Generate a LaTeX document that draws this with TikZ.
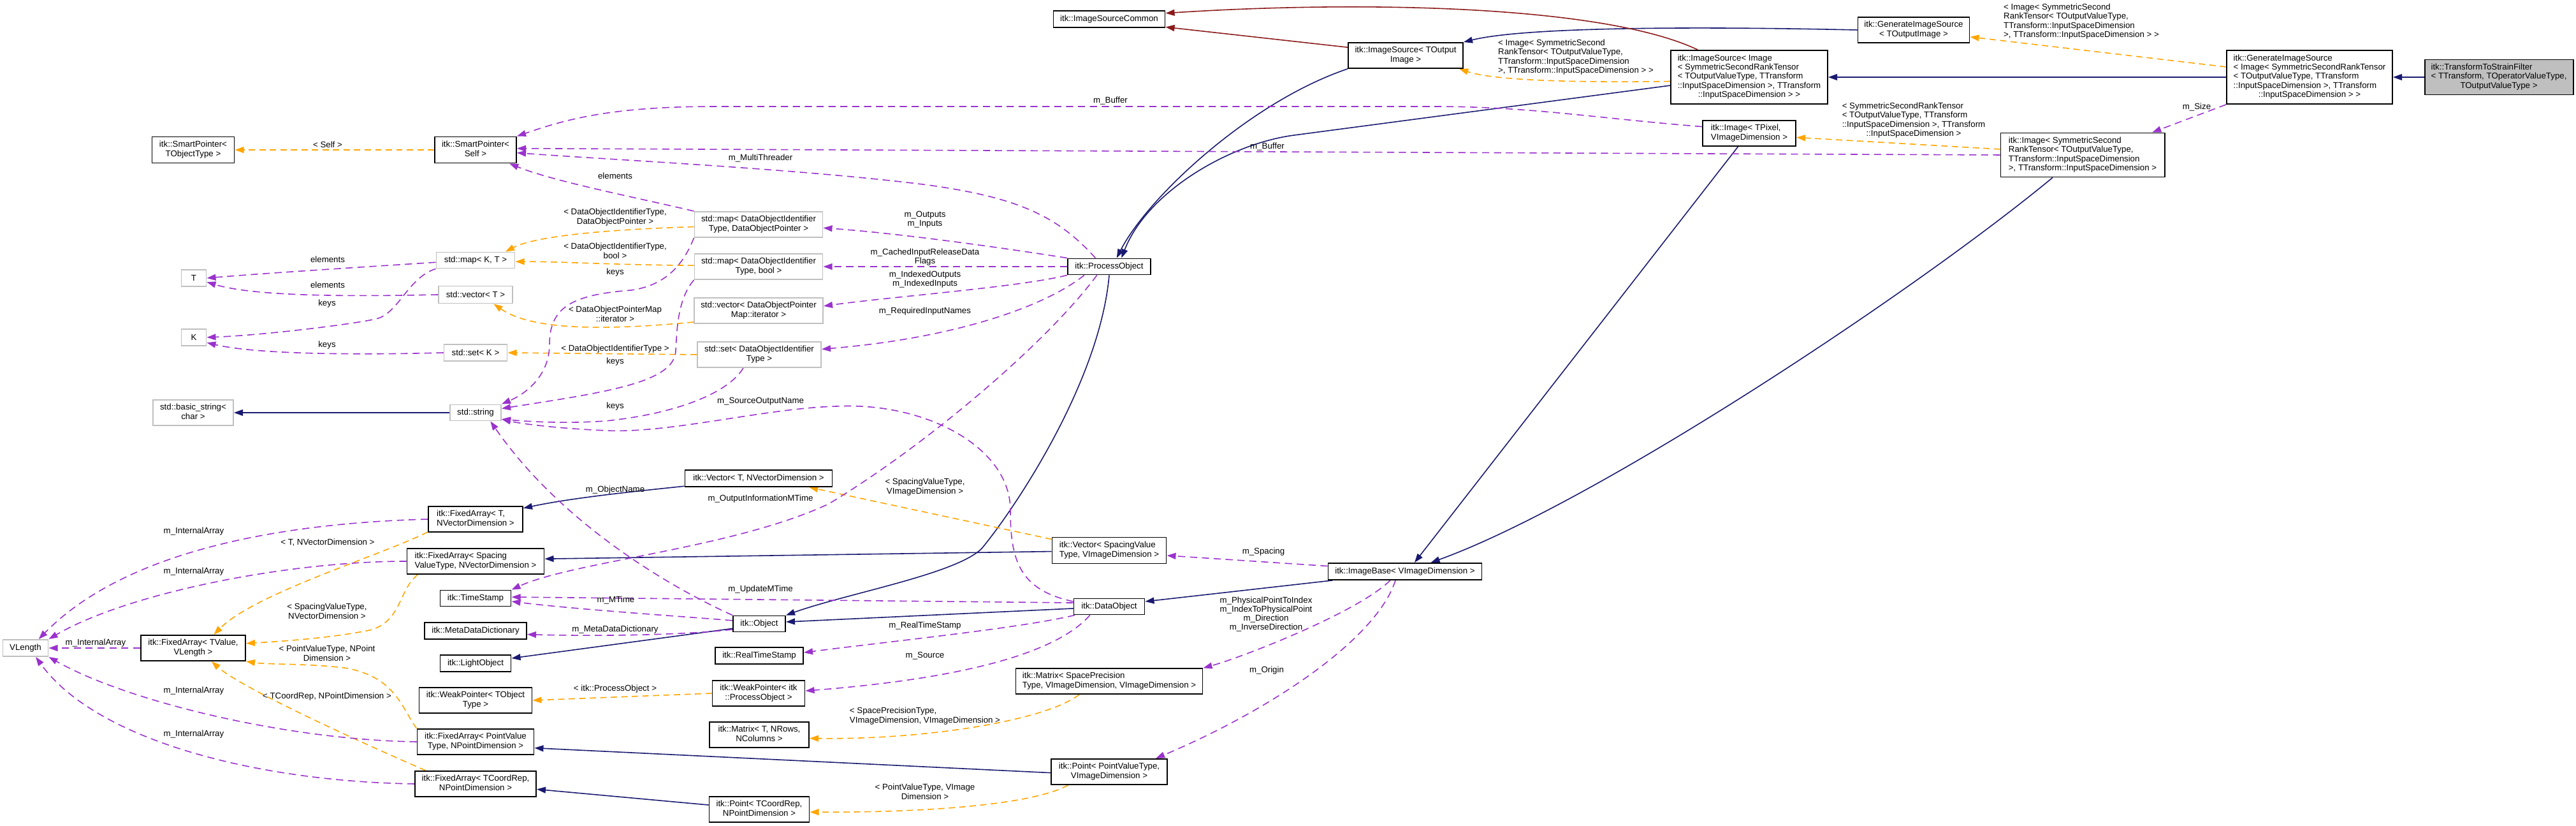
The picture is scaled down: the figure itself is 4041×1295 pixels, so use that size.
\documentclass[tikz,border=0pt]{standalone}
\usepackage{fontspec}
\setmainfont{Liberation Sans}
\usetikzlibrary{arrows.meta}
\pgfdeclarelayer{bg}
\pgfsetlayers{bg,main}
\definecolor{inhcol}{HTML}{191970}
\definecolor{redcol}{HTML}{8B1A1A}
\definecolor{orcol}{HTML}{FFA500}
\definecolor{pucol}{HTML}{9A32CD}
\definecolor{greyb}{HTML}{BFBFBF}
\definecolor{fillg}{HTML}{BFBFBF}
\newcommand\mlt[1]{\begin{tabular}{@{}l@{}}#1\end{tabular}}
\newcommand\lastln[1]{\multicolumn{1}{@{}c@{}}{#1}}
\begin{document}
\begin{tikzpicture}[x=0.01cm,y=-0.01cm,
  every node/.style={font=\fontsize{3.78pt}{4.07pt}\selectfont, inner sep=0pt},
  sz/.style 2 args={minimum width=#1*0.01cm, minimum height=#2*0.01cm},
  cls/.style={draw=black, line width=0.55pt, fill=white, rectangle},
  ext/.style={draw=greyb, line width=0.55pt, fill=white, rectangle},
  cur/.style={draw=black, line width=0.55pt, fill=fillg, rectangle},
  inh/.style={draw=inhcol, line width=0.45pt, -{Triangle[length=4pt,width=2.8pt]}},
  redinh/.style={draw=redcol, line width=0.45pt, -{Triangle[length=4pt,width=2.8pt]}},
  tpl/.style={draw=orcol, line width=0.45pt, dash pattern=on 2.8pt off 1.9pt, -{Triangle[length=4pt,width=2.8pt]}},
  mem/.style={draw=pucol, line width=0.45pt, dash pattern=on 3.2pt off 2.1pt, -{Triangle[length=4pt,width=2.8pt]}},
  lab/.style={align=center}]
\useasboundingbox (0,0) rectangle (4041,1295);

% ---------------- nodes ----------------
\node[cur,sz={233}{55}] (tsf) at (3920,121) {\mlt{itk::TransformToStrainFilter\\< TTransform, TOperatorValueType,\\\lastln{TOutputValueType >}}};
\node[cls,sz={260}{84}] (gisI) at (3623,121) {\mlt{itk::GenerateImageSource\\< Image< SymmetricSecondRankTensor\\< TOutputValueType, TTransform\\::InputSpaceDimension >, TTransform\\\lastln{::InputSpaceDimension > >}}};
\node[cls,sz={175}{40}] (gisT) at (3002,47) {\mlt{itk::GenerateImageSource\\\lastln{< TOutputImage >}}};
\node[cls,sz={246}{84}] (isI) at (2744,121) {\mlt{itk::ImageSource< Image\\< SymmetricSecondRankTensor\\< TOutputValueType, TTransform\\::InputSpaceDimension >, TTransform\\\lastln{::InputSpaceDimension > >}}};
\node[cls,sz={180}{40}] (isT) at (2205,87) {\mlt{itk::ImageSource< TOutput\\\lastln{Image >}}};
\node[cls,sz={175}{26}] (isc) at (1740,30) {itk::ImageSourceCommon};
\node[cls,sz={257}{69}] (imgSS) at (3267,243) {\mlt{itk::Image< SymmetricSecond\\RankTensor< TOutputValueType,\\TTransform::InputSpaceDimension\\\lastln{>, TTransform::InputSpaceDimension >}}};
\node[cls,sz={146}{40}] (imgT) at (2744,209) {\mlt{itk::Image< TPixel,\\\lastln{VImageDimension >}}};
\node[cls,sz={241}{26}] (ib) at (2204,896) {itk::ImageBase< VImageDimension >};
\node[cls,sz={130}{25}] (po) at (1740,418) {itk::ProcessObject};
\node[cls,sz={111}{25}] (dobj) at (1740,951) {itk::DataObject};
\node[cls,sz={82}{25}] (obj) at (1191,978) {itk::Object};
\node[cls,sz={111}{26}] (lo) at (746,1040) {itk::LightObject};
\node[cls,sz={111}{25}] (ts) at (746,938) {itk::TimeStamp};
\node[cls,sz={160}{26}] (mdd) at (746,989) {itk::MetaDataDictionary};
\node[cls,sz={138}{26}] (rts) at (1191,1028) {itk::RealTimeStamp};
\node[cls,sz={145}{40}] (wpP) at (1190,1087) {\mlt{itk::WeakPointer< itk\\\lastln{::ProcessObject >}}};
\node[cls,sz={177}{40}] (wpT) at (746,1098) {\mlt{itk::WeakPointer< TObject\\\lastln{Type >}}};
\node[cls,sz={293}{40}] (matS) at (1740,1068) {\mlt{itk::Matrix< SpacePrecision\\\lastln{Type, VImageDimension, VImageDimension >}}};
\node[cls,sz={156}{40}] (matT) at (1191,1152) {\mlt{itk::Matrix< T, NRows,\\\lastln{NColumns >}}};
\node[cls,sz={182}{40}] (ptPV) at (1740,1210) {\mlt{itk::Point< PointValueType,\\\lastln{VImageDimension >}}};
\node[cls,sz={157}{40}] (ptTC) at (1191,1269) {\mlt{itk::Point< TCoordRep,\\\lastln{NPointDimension >}}};
\node[cls,sz={179}{41}] (vecS) at (1740,863) {\mlt{itk::Vector< SpacingValue\\\lastln{Type, VImageDimension >}}};
\node[cls,sz={231}{26}] (vecT) at (1190,750) {itk::Vector< T, NVectorDimension >};
\node[cls,sz={148}{40}] (faT) at (746,814) {\mlt{itk::FixedArray< T,\\\lastln{NVectorDimension >}}};
\node[cls,sz={215}{40}] (faS) at (746,880) {\mlt{itk::FixedArray< Spacing\\\lastln{ValueType, NVectorDimension >}}};
\node[cls,sz={164}{40}] (faTV) at (303,1016) {\mlt{itk::FixedArray< TValue,\\\lastln{VLength >}}};
\node[cls,sz={183}{40}] (faPV) at (746,1163) {\mlt{itk::FixedArray< PointValue\\\lastln{Type, NPointDimension >}}};
\node[cls,sz={190}{40}] (faTC) at (746,1229) {\mlt{itk::FixedArray< TCoordRep,\\\lastln{NPointDimension >}}};
\node[ext,sz={71}{26}] (vl) at (40,1016) {VLength};
\node[cls,sz={128}{41}] (sps) at (746,235) {\mlt{itk::SmartPointer<\\\lastln{Self >}}};
\node[cls,sz={129}{41}] (spT) at (303,235) {\mlt{itk::SmartPointer<\\\lastln{TObjectType >}}};
\node[ext,sz={123}{25}] (mapKT) at (746,408) {std::map< K, T >};
\node[ext,sz={39}{26}] (nT) at (304,436) {T};
\node[ext,sz={116}{27}] (vecTs) at (746,462) {std::vector< T >};
\node[ext,sz={39}{26}] (nK) at (304,529) {K};
\node[ext,sz={99}{26}] (setK) at (746,553) {std::set< K >};
\node[ext,sz={126}{40}] (bstr) at (303,647) {\mlt{std::basic\_string<\\\lastln{char >}}};
\node[ext,sz={80}{25}] (str) at (746,647) {std::string};
\node[ext,sz={201}{40}] (mapDP) at (1190,352) {\mlt{std::map< DataObjectIdentifier\\\lastln{Type, DataObjectPointer >}}};
\node[ext,sz={201}{40}] (mapDB) at (1190,418) {\mlt{std::map< DataObjectIdentifier\\\lastln{Type, bool >}}};
\node[ext,sz={202}{40}] (vecDP) at (1190,487) {\mlt{std::vector< DataObjectPointer\\\lastln{Map::iterator >}}};
\node[ext,sz={194}{40}] (setD) at (1191,556) {\mlt{std::set< DataObjectIdentifier\\\lastln{Type >}}};

% ---------------- edges ----------------
\begin{pgfonlayer}{bg}
% inheritance
\draw[inh] (tsf.west) -- (gisI.east);
\draw[inh] (gisI.west) -- (isI.east);
\draw[inh] (gisT.west) .. controls (2600,40) and (2380,45) .. (isT.north east);
\draw[inh] (isT.south west) .. controls (1960,160) and (1800,310) .. (po.49);
\draw[inh] (isI.186) -- (2030,212) .. controls (1930,225) and (1800,300) .. (po.35);
\draw[inh] (imgT.230) -- (ib.43);
\draw[inh] (imgSS.217) .. controls (3000,460) and (2500,790) .. (ib.19);
\draw[inh] (ib.187) -- (dobj.8);
\draw[inh] (dobj.183) -- (obj.4);
\draw[inh] (po.south) .. controls (1725,600) and (1590,800) .. (1540,860) .. controls (1500,900) and (1330,930) .. (obj.north east);
\draw[inh] (obj.190) -- (lo.8);
\draw[inh] (str.west) -- (bstr.east);
\draw[inh] (vecT.186) .. controls (1000,770) and (900,780) .. (faT.13);
\draw[inh] (vecS.181) -- (faS.2);
\draw[inh] (ptPV.181) -- (faPV.354);
\draw[inh] (ptTC.175) -- (faTC.355);
\draw[redinh] (isT.172) -- (isc.352);
\draw[redinh] (isI.152) .. controls (2520,10) and (2150,0) .. (isc.6);
% template instances
\draw[tpl] (sps.west) -- (spT.east);
\draw[tpl] (mapDP.182) .. controls (950,360) and (840,370) .. (mapKT.16);
\draw[tpl] (mapDB.179) .. controls (950,415) and (880,410) .. (mapKT.358);
\draw[tpl] (vecDP.190) .. controls (930,520) and (830,515) .. (vecTs.333);
\draw[tpl] (setD.west) -- (setK.east);
\draw[tpl] (isI.183) .. controls (2450,130) and (2340,125) .. (isT.346);
\draw[tpl] (gisI.173) -- (gisT.353);
\draw[tpl] (imgSS.176) -- (imgT.355);
\draw[tpl] (vecS.169) -- (vecT.350);
\draw[tpl] (faT.195) .. controls (600,870) and (400,930) .. (faTV.33);
\draw[tpl] (faS.193) .. controls (625,925) and (630,975) .. (580,988) .. controls (520,1000) and (450,1005) .. (faTV.5);
\draw[tpl] (faPV.north west) .. controls (630,1110) and (620,1060) .. (540,1047) .. controls (480,1040) and (420,1042) .. (faTV.south east);
\draw[tpl] (faTC.165) .. controls (580,1170) and (380,1080) .. (faTV.324);
\draw[tpl] (wpP.west) -- (wpT.east);
\draw[tpl] (matS.204) .. controls (1640,1130) and (1450,1160) .. (matT.356);
\draw[tpl] (ptPV.198) .. controls (1620,1262) and (1450,1274) .. (ptTC.357);
% members
\draw[mem] (imgT.172) .. controls (2500,185) and (2400,167) .. (2250,167) -- (1120,167) .. controls (950,167) and (880,190) .. (sps.north east);
\draw[mem] (imgSS.west) -- (sps.2);
\draw[mem] (po.148) .. controls (1660,340) and (1600,310) .. (1455,290) .. controls (1260,265) and (950,250) .. (sps.356);
\draw[mem] (mapDP.north west) .. controls (1000,310) and (870,285) .. (sps.338);
\draw[mem] (po.north west) .. controls (1550,385) and (1400,365) .. (mapDP.357);
\draw[mem] (po.west) -- (mapDB.east);
\draw[mem] (po.south west) .. controls (1600,450) and (1400,465) .. (vecDP.4);
\draw[mem] (po.199) .. controls (1640,480) and (1500,530) .. (setD.5);
\draw[mem] (po.215) .. controls (1640,540) and (1450,700) .. (1300,790) .. controls (1150,860) and (900,880) .. (ts.north east);
\draw[mem] (mapDP.south west) .. controls (1070,420) and (1040,448) .. (990,455) .. controls (900,462) and (862,480) .. (862,540) .. controls (862,585) and (830,615) .. (str.north east);
\draw[mem] (mapDB.south west) .. controls (1062,470) and (1062,520) .. (1060,550) .. controls (1058,600) and (950,615) .. (str.9);
\draw[mem] (setD.220) .. controls (1140,620) and (1050,650) .. (950,660) .. controls (880,665) and (820,660) .. (str.346);
\draw[mem] (dobj.172) .. controls (1600,925) and (1585,880) .. (1585,800) .. controls (1585,700) and (1450,630) .. (1312,637) .. controls (1200,640) and (1050,680) .. (950,675) .. controls (880,672) and (820,665) .. (str.346);
\draw[mem] (obj.north west) .. controls (1050,920) and (880,820) .. (str.330);
\draw[mem] (obj.173) .. controls (1050,965) and (900,955) .. (ts.355);
\draw[mem] (dobj.174) -- (ts.2);
\draw[mem] (obj.192) .. controls (1080,995) and (950,998) .. (mdd.356);
\draw[mem] (dobj.194) .. controls (1600,985) and (1400,1005) .. (rts.4);
\draw[mem] (dobj.204) .. controls (1670,1010) and (1560,1060) .. (wpP.3);
\draw[mem] (ib.176) -- (vecS.355);
\draw[mem] (ib.211) .. controls (2130,960) and (1950,1030) .. (matS.8);
\draw[mem] (ib.223) .. controls (2160,1000) and (2000,1110) .. (ptPV.16);
\draw[mem] (gisI.south west) -- (imgSS.18);
\draw[mem] (faT.west) .. controls (450,820) and (200,860) .. (vl.34);
\draw[mem] (faS.west) .. controls (450,880) and (200,930) .. (vl.north east);
\draw[mem] (faTV.west) -- (vl.east);
\draw[mem] (faPV.west) .. controls (450,1160) and (200,1100) .. (vl.south east);
\draw[mem] (faTC.west) .. controls (400,1225) and (150,1160) .. (vl.319);
\draw[mem] (mapKT.183) .. controls (580,418) and (420,428) .. (nT.east);
\draw[mem] (vecTs.west) .. controls (550,465) and (400,465) .. (nT.343);
\draw[mem] (mapKT.south west) .. controls (640,435) and (625,492) .. (590,500) .. controls (555,508) and (420,525) .. (nK.east);
\draw[mem] (setK.west) .. controls (550,557) and (400,555) .. (nK.338);
\end{pgfonlayer}

% ---------------- labels ----------------
\node[lab] (lSelf) at (514,227) {< Self >};
\node[lab] (lDOP) at (965,341) {\mlt{< DataObjectIdentifierType,\\\lastln{DataObjectPointer >}}};
\node[lab] (lDB) at (965,395) {\mlt{< DataObjectIdentifierType,\\\lastln{bool >}}};
\node[lab] (lIter) at (965,494) {\mlt{< DataObjectPointerMap\\\lastln{::iterator >}}};
\node[lab] (lDS) at (965,547) {< DataObjectIdentifierType >};
\node[lab] (lWP) at (965,1080) {< itk::ProcessObject >};
\node[lab] (lIS) at (2472,90) {\mlt{< Image< SymmetricSecond\\RankTensor< TOutputValueType,\\TTransform::InputSpaceDimension\\\lastln{>, TTransform::InputSpaceDimension > >}}};
\node[lab] (lGIS) at (3265,34) {\mlt{< Image< SymmetricSecond\\RankTensor< TOutputValueType,\\TTransform::InputSpaceDimension\\\lastln{>, TTransform::InputSpaceDimension > >}}};
\node[lab] (lImg) at (3002,189) {\mlt{< SymmetricSecondRankTensor\\< TOutputValueType, TTransform\\::InputSpaceDimension >, TTransform\\\lastln{::InputSpaceDimension >}}};
\node[lab] (lVec) at (1451,764) {\mlt{< SpacingValueType,\\\lastln{VImageDimension >}}};
\node[lab] (lFaT) at (514,851) {< T, NVectorDimension >};
\node[lab] (lFaS) at (513,960) {\mlt{< SpacingValueType,\\\lastln{NVectorDimension >}}};
\node[lab] (lFaPV) at (513,1026) {\mlt{< PointValueType, NPoint\\\lastln{Dimension >}}};
\node[lab] (lFaTC) at (513,1092) {< TCoordRep, NPointDimension >};
\node[lab] (lMat) at (1451,1123) {\mlt{< SpacePrecisionType,\\\lastln{VImageDimension, VImageDimension >}}};
\node[lab] (lPt) at (1451,1243) {\mlt{< PointValueType, VImage\\\lastln{Dimension >}}};

\node[lab] (lBuf1) at (1742,158) {m\_Buffer};
\node[lab] (lBuf2) at (1988,230) {m\_Buffer};
\node[lab] (lMT) at (1193,248) {m\_MultiThreader};
\node[lab] (lEl1) at (965,276) {elements};
\node[lab] (lOut) at (1451,344) {m\_Outputs\\m\_Inputs};
\node[lab] (lCache) at (1451,403) {m\_CachedInputReleaseData\\Flags};
\node[lab] (lIdx) at (1451,438) {m\_IndexedOutputs\\m\_IndexedInputs};
\node[lab] (lK1) at (965,427) {keys};
\node[lab] (lReq) at (1451,488) {m\_RequiredInputNames};
\node[lab] (lK2) at (965,567) {keys};
\node[lab] (lK3) at (965,637) {keys};
\node[lab] (lSON) at (1193,629) {m\_SourceOutputName};
\node[lab] (lON) at (965,768) {m\_ObjectName};
\node[lab] (lOIM) at (1193,782) {m\_OutputInformationMTime};
\node[lab] (lSp) at (1982,865) {m\_Spacing};
\node[lab] (lUM) at (1193,924) {m\_UpdateMTime};
\node[lab] (lMT2) at (966,941) {m\_MTime};
\node[lab] (lMDD) at (965,987) {m\_MetaDataDictionary};
\node[lab] (lRTS) at (1451,981) {m\_RealTimeStamp};
\node[lab] (lSrc) at (1451,1028) {m\_Source};
\node[lab] (lPP) at (1986,963) {m\_PhysicalPointToIndex\\m\_IndexToPhysicalPoint\\m\_Direction\\m\_InverseDirection};
\node[lab] (lOr) at (1987,1051) {m\_Origin};
\node[lab] (lSz) at (3446,168) {m\_Size};
\node[lab] (lIA1) at (304,833) {m\_InternalArray};
\node[lab] (lIA2) at (304,896) {m\_InternalArray};
\node[lab] (lIA3) at (150,1008) {m\_InternalArray};
\node[lab] (lIA4) at (304,1083) {m\_InternalArray};
\node[lab] (lIA5) at (304,1151) {m\_InternalArray};
\node[lab] (lEl2) at (514,407) {elements};
\node[lab] (lEl3) at (514,447) {elements};
\node[lab] (lK4) at (513,476) {keys};
\node[lab] (lK5) at (513,541) {keys};
\end{tikzpicture}
\end{document}
